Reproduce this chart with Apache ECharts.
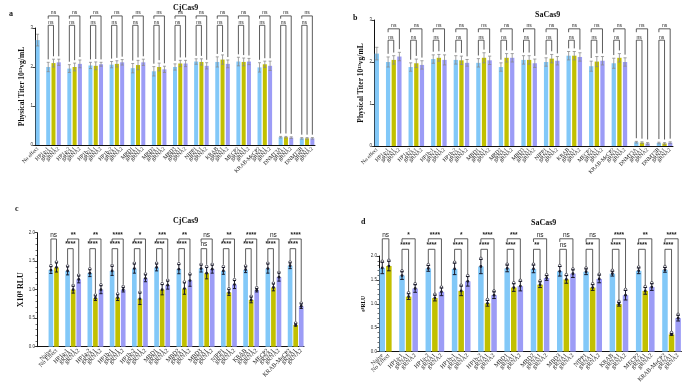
<!DOCTYPE html>
<html>
<head>
<meta charset="utf-8">
<script src="https://cdn.jsdelivr.net/npm/echarts@6/dist/echarts.min.js"></script>
<style>
  html, body { margin: 0; background: #fff; }
  #chart { width: 685px; height: 385px; }
</style>
</head>
<body>
<div id="chart"></div>
<script>
// categories
const titerGroups = ['HP1a-1', 'HP1a-2', 'HP1b-1', 'HP1b-2', 'MBD1', 'MBD2', 'MBD3', 'NIPP1', 'KRAB', 'MECP2', 'KRAB-MeCP2', 'DNMT3A', 'DNMT3B']
const rluGroups = ['HP1a-1', 'HP1a-2', 'HP1b-1', 'HP1b-2', 'MBD1', 'MBD2', 'MBD3', 'NIPP1', 'KRAB', 'MECP2', 'KRAB-MeCP2']
const titerControls = ['No effect']
const rluControls = ['Naive', 'No Effect']
const titerTicks = [0, 1, 2, 3]
const rluTicks = [0, 0.5, 1, 1.5, 2]

// a: CjCas9 physical titer
const cjTiterControl = [2.69]
const cjTiterControlSd = [0.15]
const cjTiterEffector = [2.0, 1.96, 2.04, 2.06, 1.97, 1.89, 2.0, 2.14, 2.13, 2.14, 1.99, 0.2, 0.17]
const cjTiterG1 = [2.1, 2.0, 2.03, 2.08, 2.05, 2.0, 2.09, 2.13, 2.19, 2.13, 2.07, 0.2, 0.17]
const cjTiterG2 = [2.12, 2.08, 2.07, 2.12, 2.12, 1.94, 2.09, 2.03, 2.08, 2.14, 2.03, 0.19, 0.17]
const cjTiterEffectorSd = [0.12, 0.1, 0.08, 0.08, 0.12, 0.12, 0.08, 0.07, 0.13, 0.11, 0.12, 0.02, 0.02]
const cjTiterG1Sd = [0.1, 0.1, 0.1, 0.08, 0.12, 0.1, 0.08, 0.08, 0.12, 0.1, 0.08, 0.02, 0.02]
const cjTiterG2Sd = [0.08, 0.1, 0.05, 0.07, 0.08, 0.08, 0.08, 0.08, 0.1, 0.08, 0.12, 0.02, 0.02]

// b: SaCas9 physical titer
const saTiterControl = [2.2]
const saTiterControlSd = [0.15]
const saTiterEffector = [2.0, 1.88, 2.07, 2.05, 1.98, 1.88, 2.05, 2.0, 2.15, 1.9, 1.97, 0.09, 0.07]
const saTiterG1 = [2.05, 1.97, 2.1, 2.04, 2.1, 2.1, 2.05, 2.08, 2.15, 2.01, 2.1, 0.08, 0.06]
const saTiterG2 = [2.13, 1.93, 2.05, 1.98, 2.04, 2.1, 1.97, 2.03, 2.12, 2.03, 2.0, 0.06, 0.08]
const saTiterEffectorSd = [0.12, 0.1, 0.1, 0.1, 0.1, 0.1, 0.1, 0.1, 0.1, 0.12, 0.12, 0.02, 0.02]
const saTiterG1Sd = [0.1, 0.1, 0.08, 0.1, 0.12, 0.1, 0.1, 0.1, 0.1, 0.12, 0.1, 0.02, 0.02]
const saTiterG2Sd = [0.1, 0.1, 0.12, 0.08, 0.1, 0.1, 0.1, 0.1, 0.1, 0.1, 0.1, 0.02, 0.02]

// c: CjCas9 RLU
const cjRluControl = [1.345, 1.39]
const cjRluControlSd = [0.06, 0.08]
const cjRluEffector = [1.33, 1.29, 1.33, 1.37, 1.39, 1.36, 1.37, 1.33, 1.35, 1.37, 1.42]
const cjRluG1 = [1.0, 0.85, 0.86, 0.84, 1.0, 1.02, 1.29, 0.95, 0.82, 1.04, 0.38]
const cjRluG2 = [1.18, 1.0, 1.0, 1.2, 1.08, 1.16, 1.36, 1.09, 0.99, 1.22, 0.71]
const cjRluEffectorSd = [0.07, 0.06, 0.08, 0.08, 0.06, 0.08, 0.06, 0.06, 0.05, 0.08, 0.05]
const cjRluG1Sd = [0.06, 0.04, 0.05, 0.1, 0.09, 0.1, 0.1, 0.05, 0.05, 0.06, 0.02]
const cjRluG2Sd = [0.06, 0.07, 0.04, 0.06, 0.07, 0.1, 0.07, 0.07, 0.03, 0.07, 0.04]
const cjRluSigOuter = ['**', '**', '****', '*', '***', '**', 'ns', '**', '****', 'ns', '****']
const cjRluSigInner = ['****', '****', '****', '****', '****', '****', 'ns', '****', '****', '****', '****']

// d: SaCas9 RLU
const saRluControl = [1.75, 1.79]
const saRluControlSd = [0.12, 0.1]
const saRluEffector = [1.59, 1.74, 1.73, 1.78, 1.74, 1.73, 1.68, 1.67, 1.63, 1.69, 1.71]
const saRluG1 = [1.15, 1.12, 1.27, 1.01, 1.34, 1.4, 1.51, 1.34, 0.99, 1.27, 0.36]
const saRluG2 = [1.32, 1.25, 1.47, 1.18, 1.37, 1.54, 1.63, 1.52, 1.18, 1.35, 0.7]
const saRluEffectorSd = [0.08, 0.06, 0.12, 0.15, 0.07, 0.08, 0.1, 0.06, 0.05, 0.06, 0.05]
const saRluG1Sd = [0.06, 0.06, 0.1, 0.06, 0.08, 0.06, 0.08, 0.06, 0.04, 0.07, 0.02]
const saRluG2Sd = [0.08, 0.08, 0.1, 0.07, 0.1, 0.05, 0.08, 0.08, 0.1, 0.07, 0.06]
const saRluSigOuter = ['*', '****', '*', '****', '***', 'ns', 'ns', 'ns', '****', '**', '****']
const saRluSigInner = ['****', '****', '****', '****', '****', '**', 'ns', '***', '****', '****', '****']

const BLUE = '#82c8f8'
const OLIVE = '#c2c000'
const PURPLE = '#9c9cf6'
const SERIF = 'Liberation Serif'

const panels = [
  {
    title: 'CjCas9', letter: 'a', titleAt: [168, -1], letterAt: [4, 5],
    grid: { left: 35, right: 370, top: 28, bottom: 240 },
    ticks: titerTicks, tickFmt: (v) => String(v), minor: false, dots: false,
    yName: 'Physical Titer 10\u00b9\u00b3vg/mL', nameGap: 9, nameSize: 7.5,
    controls: titerControls, ctrl: cjTiterControl, ctrlSd: cjTiterControlSd, ctrlColors: [BLUE],
    groups: titerGroups, eff: cjTiterEffector, g1: cjTiterG1, g2: cjTiterG2,
    effSd: cjTiterEffectorSd, g1Sd: cjTiterG1Sd, g2Sd: cjTiterG2Sd,
    sigOuter: titerGroups.map(() => 'ns'), sigInner: titerGroups.map(() => 'ns'),
    outer: 3.31, inner: 3.07, barWidth: '76%', labelSize: 5.5, errColor: '#8a8a8a', sigSize: 5
  },
  {
    title: 'SaCas9', letter: 'b', titleAt: [530, 6], letterAt: [348, 9],
    grid: { left: 374, right: 12, top: 20, bottom: 239 },
    ticks: titerTicks, tickFmt: (v) => String(v), minor: false, dots: false,
    yName: 'Physical Titer 10\u00b9\u00b3vg/mL', nameGap: 9, nameSize: 7.5,
    controls: titerControls, ctrl: saTiterControl, ctrlSd: saTiterControlSd, ctrlColors: [BLUE],
    groups: titerGroups, eff: saTiterEffector, g1: saTiterG1, g2: saTiterG2,
    effSd: saTiterEffectorSd, g1Sd: saTiterG1Sd, g2Sd: saTiterG2Sd,
    sigOuter: titerGroups.map(() => 'ns'), sigInner: titerGroups.map(() => 'ns'),
    outer: 2.79, inner: 2.52, barWidth: '76%', labelSize: 5.5, errColor: '#8a8a8a', sigSize: 5
  },
  {
    title: 'CjCas9', letter: 'c', titleAt: [168, 212], letterAt: [10, 200],
    grid: { left: 37, right: 381, top: 232.7, bottom: 38.3 }, lead: 2,
    ticks: rluTicks, tickFmt: (v) => v.toFixed(1), minor: true, dots: true,
    yName: 'X10\u2078 RLU', nameGap: 12, nameSize: 8,
    controls: rluControls, ctrl: cjRluControl, ctrlSd: cjRluControlSd, ctrlColors: [BLUE, OLIVE],
    groups: rluGroups, eff: cjRluEffector, g1: cjRluG1, g2: cjRluG2,
    effSd: cjRluEffectorSd, g1Sd: cjRluG1Sd, g2Sd: cjRluG2Sd,
    sigOuter: cjRluSigOuter, sigInner: cjRluSigInner,
    outer: 1.89, inner: 1.72, barWidth: '84%', labelSize: 6, errColor: '#1a1a2a', sigSize: 6.5
  },
  {
    title: 'SaCas9', letter: 'd', titleAt: [526, 214], letterAt: [356, 213],
    grid: { left: 379, right: 3.6, top: 256, bottom: 32 },
    ticks: rluTicks, tickFmt: (v) => v.toFixed(1), minor: true, dots: true,
    yName: 'e\u2078RLU', nameGap: 10, nameSize: 5.5,
    controls: rluControls, ctrl: saRluControl, ctrlSd: saRluControlSd, ctrlColors: [BLUE, OLIVE],
    groups: rluGroups, eff: saRluEffector, g1: saRluG1, g2: saRluG2,
    effSd: saRluEffectorSd, g1Sd: saRluG1Sd, g2Sd: saRluG2Sd,
    sigOuter: saRluSigOuter, sigInner: saRluSigInner,
    outer: 2.36, inner: 2.14, barWidth: '84%', labelSize: 6, errColor: '#1a1a2a', sigSize: 6.5
  }
]

// lay the categories out: [lead blanks] controls, blank, group(eff, gRNA1, gRNA2), blank, ...
const buildSlots = (p) => {
  const cats = []
  for (let i = 0; i < (p.lead || 0); i++) cats.push('')
  const ctrlIdx = p.controls.map((name) => { cats.push(name); return cats.length - 1 })
  const idx = p.groups.map((g) => {
    cats.push('')
    const b = cats.length
    cats.push(g, 'gRNA1', 'gRNA2')
    return [b, b + 1, b + 2]
  })
  return { cats, ctrlIdx, idx }
}

const errItem = (color, dots) => (params, api) => {
  const x = api.value(0)
  const m = api.value(1)
  const e = api.value(2)
  const hi = api.coord([x, m + e])
  const lo = api.coord([x, m - e])
  const mid = api.coord([x, m])
  const w = api.size([1, 0])[0] * 0.28
  const style = { stroke: color, lineWidth: dots ? 1 : 0.8 }
  const children = [
    { type: 'line', shape: { x1: hi[0], y1: hi[1], x2: lo[0], y2: lo[1] }, style },
    { type: 'line', shape: { x1: hi[0] - w, y1: hi[1], x2: hi[0] + w, y2: hi[1] }, style },
    { type: 'line', shape: { x1: lo[0] - w, y1: lo[1], x2: lo[0] + w, y2: lo[1] }, style }
  ]
  if (dots) {
    children.push({ type: 'circle', shape: { cx: mid[0], cy: mid[1], r: 1.4 }, style: { fill: color } })
    children.push({ type: 'circle', shape: { cx: hi[0], cy: hi[1] - 1, r: 1.3 }, style: { fill: 'none', stroke: color, lineWidth: 0.7 } })
  }
  return { type: 'group', children }
}

const bracketItem = (labels, size) => (params, api) => {
  const a = api.coord([api.value(0), api.value(2)])
  const b = api.coord([api.value(1), api.value(2)])
  const la = api.coord([api.value(0), api.value(3)])
  const lb = api.coord([api.value(1), api.value(4)])
  const text = labels[params.dataIndex]
  return {
    type: 'group',
    children: [
      {
        type: 'polyline',
        shape: { points: [[la[0], la[1]], a, b, [lb[0], lb[1]]] },
        style: { stroke: '#333', lineWidth: 0.8, fill: null }
      },
      {
        type: 'text',
        style: {
          text, x: (a[0] + b[0]) / 2, y: a[1] - 0.5,
          align: 'center', verticalAlign: 'bottom',
          font: (text === 'ns' ? '' : 'bold ') + size + 'px sans-serif', fill: '#222'
        }
      }
    ]
  }
}

const option = { animation: false, title: [], grid: [], xAxis: [], yAxis: [], series: [] }

panels.forEach((p, k) => {
  const { cats, ctrlIdx, idx } = buildSlots(p)
  const empty = () => cats.map(() => '-')
  const blue = empty()
  const olive = empty()
  const purple = empty()
  const errs = []
  ctrlIdx.forEach((s, i) => {
    const target = p.ctrlColors[i] === BLUE ? blue : olive
    target[s] = p.ctrl[i]
    errs.push([s, p.ctrl[i], p.ctrlSd[i]])
  })
  idx.forEach(([b, o, q], i) => {
    blue[b] = p.eff[i]
    olive[o] = p.g1[i]
    purple[q] = p.g2[i]
    errs.push([b, p.eff[i], p.effSd[i]], [o, p.g1[i], p.g1Sd[i]], [q, p.g2[i], p.g2Sd[i]])
  })

  // significance brackets: [xStart, xEnd, top, leftLegEnd, rightLegEnd]
  const brackets = []
  const labels = []
  const gap = p.ticks[p.ticks.length - 1] * 0.025
  const shortLeg = p.outer - (p.outer - p.inner) * 0.3
  if (ctrlIdx.length > 1) {
    brackets.push([ctrlIdx[0], ctrlIdx[1], p.outer, p.ctrl[0] + p.ctrlSd[0] + gap, p.ctrl[1] + p.ctrlSd[1] + gap])
    labels.push('ns')
  }
  idx.forEach(([b, o, q], i) => {
    brackets.push([b, o, p.inner, p.eff[i] + p.effSd[i] + gap, p.g1[i] + p.g1Sd[i] + gap])
    labels.push(p.sigInner[i])
    brackets.push([b, q, p.outer, shortLeg, p.g2[i] + p.g2Sd[i] + gap])
    labels.push(p.sigOuter[i])
  })

  option.title.push(
    { text: p.title, left: p.titleAt[0], top: p.titleAt[1], textStyle: { fontFamily: SERIF, fontWeight: 'bold', fontSize: 8, color: '#111' } },
    { text: p.letter, left: p.letterAt[0], top: p.letterAt[1], textStyle: { fontFamily: SERIF, fontWeight: 'bold', fontSize: 8, color: '#111' } }
  )
  option.grid.push(p.grid)
  option.xAxis.push({
    type: 'category', gridIndex: k, data: cats,
    axisLine: { lineStyle: { color: '#111', width: 1 } },
    axisTick: { alignWithLabel: true, interval: 0, length: 2.5, lineStyle: { color: '#111', width: 0.8 } },
    axisLabel: { interval: 0, rotate: 45, fontSize: p.labelSize, fontFamily: SERIF, color: '#222', margin: 3 }
  })
  option.yAxis.push({
    type: 'value', gridIndex: k,
    min: p.ticks[0], max: p.ticks[p.ticks.length - 1], interval: p.ticks[1] - p.ticks[0],
    name: p.yName, nameLocation: 'middle', nameGap: p.nameGap,
    nameTextStyle: { fontFamily: SERIF, fontWeight: 'bold', fontSize: p.nameSize, color: '#111' },
    axisLine: { show: true, lineStyle: { color: '#111', width: 1 } },
    axisTick: { show: true, length: 2.5, lineStyle: { color: '#111', width: 0.8 } },
    minorTick: { show: p.minor, splitNumber: 5, length: 1.5, lineStyle: { color: '#111', width: 0.6 } },
    axisLabel: { fontSize: 4.5, color: '#333', margin: 2, formatter: p.tickFmt },
    splitLine: { show: false }
  })
  const bar = (name, data, color) => ({
    name, type: 'bar', xAxisIndex: k, yAxisIndex: k, data, barWidth: p.barWidth, barGap: '-100%',
    itemStyle: { color }
  })
  option.series.push(
    bar('Effector', blue, BLUE),
    bar('gRNA1', olive, OLIVE),
    bar('gRNA2', purple, PURPLE),
    { type: 'custom', xAxisIndex: k, yAxisIndex: k, data: errs, renderItem: errItem(p.errColor, p.dots), z: 5 },
    { type: 'custom', xAxisIndex: k, yAxisIndex: k, data: brackets, renderItem: bracketItem(labels, p.sigSize), clip: false, z: 6 }
  )
})

const chart = echarts.init(document.getElementById('chart'))
chart.setOption(option)
window.addEventListener('resize', () => chart.resize())
</script>
</body>
</html>
